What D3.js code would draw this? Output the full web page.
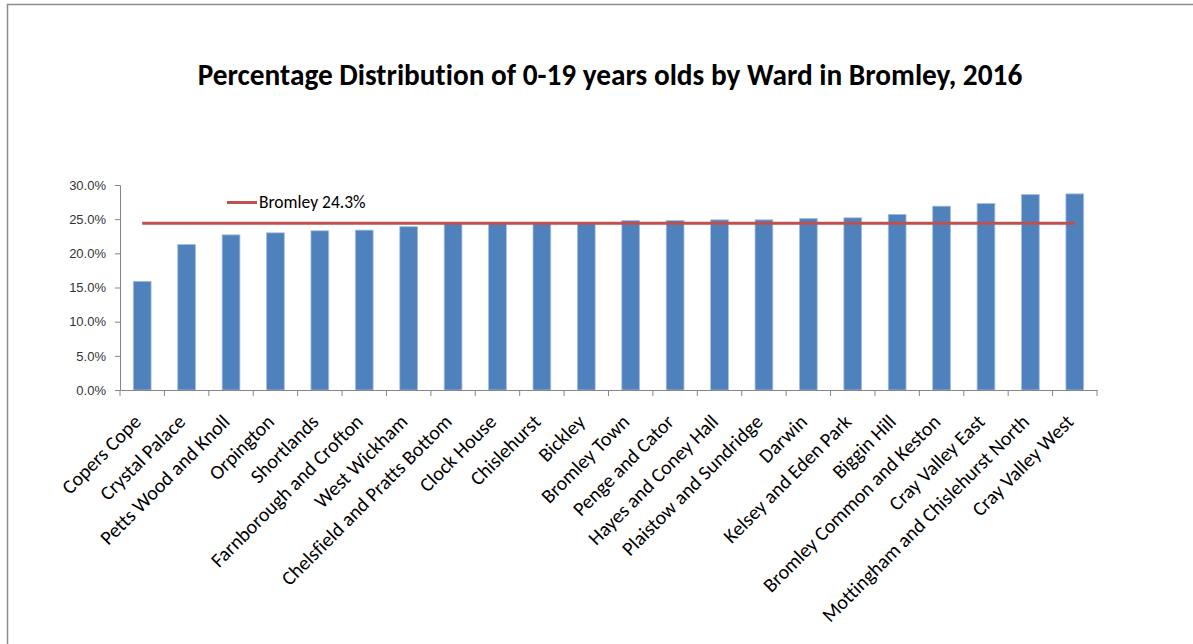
<!DOCTYPE html>
<html><head><meta charset="utf-8">
<script src="https://cdn.jsdelivr.net/npm/d3@7"></script>
<style>
html,body{margin:0;padding:0;background:#fff;}
svg{display:block;font-family:Carlito,Lato,"Liberation Sans",sans-serif;font-variant-ligatures:none;}
</style></head>
<body>
<svg id="chart" width="1193" height="644"></svg>
<script>
const categories = ["Copers Cope","Crystal Palace","Petts Wood and Knoll","Orpington","Shortlands","Farnborough and Crofton","West Wickham","Chelsfield and Pratts Bottom","Clock House","Chislehurst","Bickley","Bromley Town","Penge and Cator","Hayes and Coney Hall","Plaistow and Sundridge","Darwin","Kelsey and Eden Park","Biggin Hill","Bromley Common and Keston","Cray Valley East","Mottingham and Chislehurst North","Cray Valley West"];
const wardValues = [15.9,21.3,22.7,23.0,23.3,23.4,23.9,24.4,24.4,24.4,24.5,24.8,24.8,24.9,24.9,25.1,25.2,25.7,26.9,27.3,28.6,28.7];
const boroughValue = 24.4;
const boroughLabel = "Bromley 24.3%";
const yTicks = [0,5,10,15,20,25,30];
const title = "Percentage Distribution of 0-19 years olds by Ward in Bromley, 2016";

(function(){
const svg = d3.select("#chart");
const pLeft = 120, pRight = 1097, pTop = 185, pBottom = 390;

// frame
svg.append("path").attr("d","M7.5,650 V4.5 H1200").attr("fill","none").attr("stroke","#8c8c8c").attr("stroke-width",1.5);

svg.append("text").attr("x",610).attr("y",85).attr("text-anchor","middle")
  .attr("font-weight","bold").attr("font-size",29.3).attr("fill","#000").text(title);

const x = d3.scaleBand().domain(categories).range([pLeft,pRight]).paddingInner(0.6).paddingOuter(0.3);
const xb = d3.scaleBand().domain(categories).range([pLeft,pRight]);
const y = d3.scaleLinear().domain([0,30]).range([pBottom,pTop]);

// bars
svg.append("g").selectAll("rect").data(categories).join("rect")
  .attr("x",d=>x(d)).attr("width",x.bandwidth())
  .attr("y",(d,i)=>y(wardValues[i])).attr("height",(d,i)=>pBottom-y(wardValues[i]))
  .attr("fill","#4F81BD").attr("stroke","#a7bfde").attr("stroke-width",0.8);

// y axis
const yAxis = d3.axisLeft(y).tickValues(yTicks).tickFormat(d=>d3.format(".1f")(d)+"%").tickSize(5).tickPadding(9);
const ga = svg.append("g").attr("transform",`translate(${pLeft},0)`).call(yAxis);
ga.select(".domain").attr("stroke","#868686");
ga.selectAll(".tick line").attr("stroke","#868686");
ga.selectAll(".tick text").attr("font-size",13).attr("fill","#333").attr("font-family","inherit");

// x axis
const xAxis = d3.axisBottom(xb).tickSize(0).tickFormat("");
const gx = svg.append("g").attr("transform",`translate(0,${pBottom})`).call(xAxis);
gx.select(".domain").attr("stroke","#868686");
gx.selectAll(".tick").remove();
const bounds = categories.map(c=>xb(c)).concat([pRight]);
gx.selectAll("line.sep").data(bounds).join("line").attr("class","sep")
  .attr("x1",d=>d).attr("x2",d=>d).attr("y1",0).attr("y2",6).attr("stroke","#868686");

svg.append("g").selectAll("text").data(categories).join("text")
  .attr("transform",d=>`translate(${xb(d)+xb.bandwidth()/2-10},${pBottom+23}) rotate(-45)`)
  .attr("text-anchor","end").attr("dy","0.71em").attr("font-size",20).attr("fill","#000").text(d=>d);

// borough line
const line = d3.line().x(d=>xb(d)+xb.bandwidth()/2).y(()=>y(boroughValue));
svg.append("path").datum([categories[0],categories[categories.length-1]]).attr("d",line)
  .attr("stroke","#C0504D").attr("stroke-width",3).attr("fill","none");

// legend
svg.append("line").attr("x1",227).attr("x2",257).attr("y1",202.5).attr("y2",202.5).attr("stroke","#C0504D").attr("stroke-width",3);
svg.append("text").attr("x",259).attr("y",207.5).attr("font-size",17.5).attr("fill","#000").text(boroughLabel);
})();
</script>
</body></html>
